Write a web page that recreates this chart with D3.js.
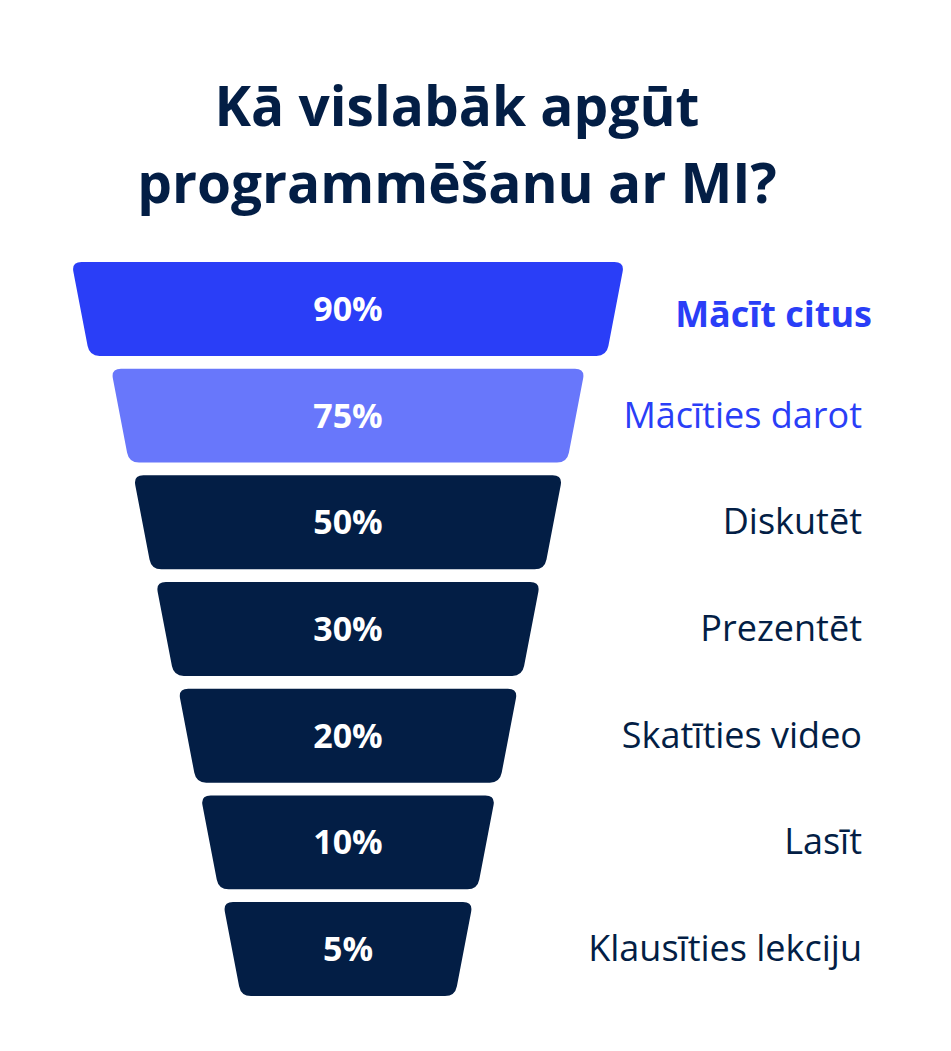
<!DOCTYPE html>
<html><head><meta charset="utf-8">
<script src="https://cdn.jsdelivr.net/npm/d3@7"></script>
<style>body{margin:0;background:#fff}</style>
</head><body>
<svg id="c" width="951" height="1051"></svg>
<script>
const titleLines = ["Kā vislabāk apgūt", "programmēšanu ar MI?"];
const categories = ["Mācīt citus","Mācīties darot","Diskutēt","Prezentēt","Skatīties video","Lasīt","Klausīties lekciju"];
const values = [90,75,50,30,20,10,5];

const svg = d3.select("#c");
const dark = "#031e45";
const fills = ["#2a3ef7","#6877fb",dark,dark,dark,dark,dark];
const labelColors = ["#2a3ef7","#2a3ef7",dark,dark,dark,dark,dark];

svg.selectAll("text.title").data(titleLines).join("text")
  .attr("x",457).attr("y",(d,i)=>126+i*77)
  .attr("text-anchor","middle").attr("font-family","Open Sans, Noto Sans, sans-serif")
  .attr("font-weight",700).attr("font-size",55).attr("fill",dark).text(d=>d);

const y = d3.scaleBand().domain(d3.range(values.length)).range([262,996]).paddingInner(0.12).paddingOuter(0);
const w = d3.scaleLinear().domain([0,1,6]).range([553,474,250]);
const cx = 348, inset = 18, r = 10;

function trap(i){
  const t = y(i), b = t + y.bandwidth(), tw = w(i)/2, bw = tw - inset;
  const p = [[cx-tw,t],[cx+tw,t],[cx+bw,b],[cx-bw,b]];
  let s = "";
  for(let k=0;k<4;k++){
    const a=p[(k+3)%4], c=p[k], n=p[(k+1)%4];
    const d1=Math.hypot(a[0]-c[0],a[1]-c[1]), d2=Math.hypot(n[0]-c[0],n[1]-c[1]);
    const s1=[c[0]+(a[0]-c[0])*r/d1, c[1]+(a[1]-c[1])*r/d1];
    const s2=[c[0]+(n[0]-c[0])*r/d2, c[1]+(n[1]-c[1])*r/d2];
    s += (k===0?"M":"L")+s1+"Q"+c+" "+s2;
  }
  return s+"Z";
}

const g = svg.selectAll("g.row").data(values).join("g");
g.append("path").attr("d",(d,i)=>trap(i)).attr("fill",(d,i)=>fills[i]);
g.append("text").attr("x",cx).attr("y",(d,i)=>y(i)+y.bandwidth()/2+12)
  .attr("text-anchor","middle").attr("font-family","Open Sans, Noto Sans, sans-serif")
  .attr("font-weight",700).attr("font-size",34).attr("fill","#fff").text(d=>d+"%");
g.append("text").attr("x",(d,i)=>i===0?872:862).attr("y",(d,i)=>y(i)+y.bandwidth()/2+(i===0?18:12))
  .attr("text-anchor","end").attr("font-family","Open Sans, Noto Sans, sans-serif")
  .attr("font-weight",(d,i)=>i===0?700:400).attr("font-size",36)
  .attr("fill",(d,i)=>labelColors[i]).text((d,i)=>categories[i]);
</script>
</body></html>
